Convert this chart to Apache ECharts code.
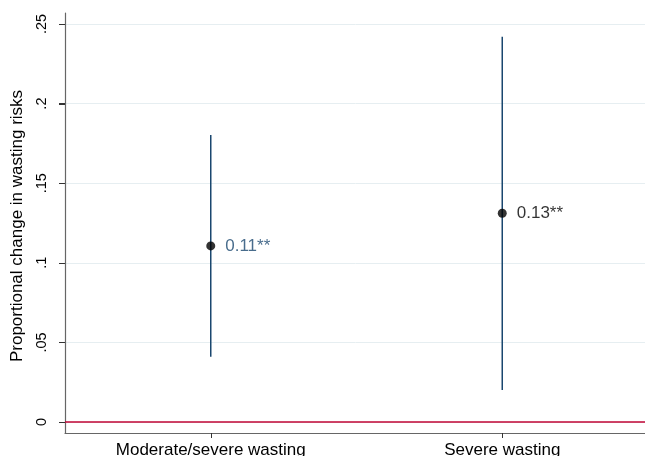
<!DOCTYPE html>
<html><head><meta charset="utf-8">
<script src="https://cdn.jsdelivr.net/npm/echarts@6/dist/echarts.min.js"></script>
<style>html,body{margin:0;padding:0;background:#fff}#c{width:645px;height:456px}</style>
</head><body><div id="c"></div>
<script>
var categories = ["Moderate/severe wasting", "Severe wasting"];
var estimates = [0.1106, 0.1311];
var ciLow = [0.041, 0.0201];
var ciHigh = [0.1803, 0.242];
var pointLabels = ["0.11**", "0.13**"];
var yTickValues = [0, 0.05, 0.1, 0.15, 0.2, 0.25];
var yTickLabels = ["0", ".05", ".1", ".15", ".2", ".25"];

var FONT = "Liberation Sans, Arial, sans-serif";
var navy = "#1a476f";
var chart = echarts.init(document.getElementById('c'));

var ciData = categories.map(function (c, i) { return [i, ciLow[i], ciHigh[i]]; });
var ptData = categories.map(function (c, i) {
  return {
    value: [i, estimates[i]],
    label: { color: i === 0 ? navy : "#000" }
  };
});
var tickData = yTickValues.map(function (v) { return [0, v]; });

chart.setOption({
  animation: false,
  backgroundColor: "#fff",
  grid: { left: 65, top: 13, width: 583, bottom: 23, containLabel: false, outerBoundsMode: "none" },
  xAxis: {
    type: "category",
    data: categories,
    boundaryGap: true,
    axisLine: { onZero: false, lineStyle: { color: "#666", width: 1.2 } },
    axisTick: { show: true, alignWithLabel: true, length: 5, lineStyle: { color: "#333" } },
    axisLabel: { color: "#000", fontFamily: FONT, fontSize: 17, margin: 9, interval: 0 },
    splitLine: { show: false }
  },
  yAxis: {
    type: "value",
    min: -0.0069,
    max: 0.2569,
    name: "Proportional change in wasting risks",
    nameLocation: "middle",
    nameRotate: 90,
    nameGap: 38,
    nameTextStyle: { color: "#000", fontFamily: FONT, fontSize: 17, padding: [0, 6, 0, 0] },
    axisLine: { show: true, lineStyle: { color: "#666", width: 1.2 } },
    axisTick: { show: true, inside: false, length: 6, customValues: yTickValues, lineStyle: { color: "#333", width: 1 } },
    axisLabel: {
      customValues: yTickValues,
      rotate: 90,
      color: "#000",
      fontFamily: FONT,
      fontSize: 14.5,
      margin: 16,
      formatter: function (v) {
        var idx = yTickValues.findIndex(function (t) { return Math.abs(t - v) < 1e-9; });
        return idx >= 0 ? yTickLabels[idx] : "";
      }
    },
    splitLine: { show: true, lineStyle: { color: "#e6eef1", width: 1 } }
  },
  series: [
    {
      type: "custom",
      data: tickData,
      encode: { x: 0, y: 1 },
      clip: false,
      silent: true,
      renderItem: function (params, api) {
        var p = api.coord([0, api.value(1)]);
        var x0 = params.coordSys.x;
        var yy = Math.round(p[1]) + 0.5;
        return {
          type: "line",
          z2: 100,
          shape: { x1: x0 - 6, y1: yy, x2: x0, y2: yy },
          style: { stroke: "#333", lineWidth: 1 }
        };
      },
      z: 10
    },
    {
      type: "custom",
      data: ciData,
      encode: { x: 0, y: [1, 2] },
      renderItem: function (params, api) {
        var p1 = api.coord([api.value(0), api.value(1)]);
        var p2 = api.coord([api.value(0), api.value(2)]);
        return {
          type: "line",
          shape: { x1: p1[0], y1: p1[1], x2: p2[0], y2: p2[1] },
          style: { stroke: navy, lineWidth: 1.5 }
        };
      },
      z: 2
    },
    {
      type: "scatter",
      data: ptData,
      symbol: "circle",
      symbolSize: 9,
      itemStyle: { color: "#000" },
      label: {
        show: true,
        position: "right",
        distance: 10,
        fontFamily: FONT,
        fontSize: 17,
        formatter: function (p) { return pointLabels[p.dataIndex]; }
      },
      z: 3,
      markLine: {
        silent: true,
        symbol: "none",
        label: { show: false },
        lineStyle: { color: "#c10534", width: 1.5, type: "solid" },
        data: [{ yAxis: 0 }]
      }
    }
  ]
});
</script>
</body></html>
